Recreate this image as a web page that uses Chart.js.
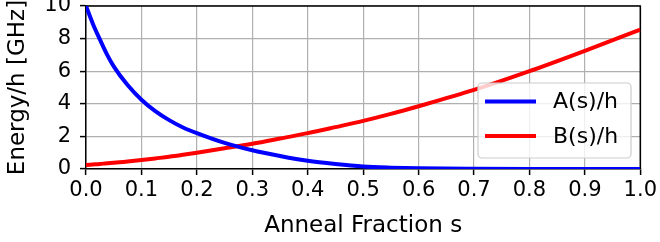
<!DOCTYPE html>
<html>
<head>
<meta charset="utf-8">
<script src="https://cdn.jsdelivr.net/npm/chart.js@4/dist/chart.umd.min.js"></script>
<style>
  html, body { margin: 0; padding: 0; background: #fff; }
  #wrap { width: 660px; height: 242px; }
</style>
</head>
<body>
<div id="wrap"><canvas id="chart" width="660" height="242"></canvas></div>
<script>
// anneal schedule
var sValues = [0, 0.0125, 0.025, 0.0375, 0.05, 0.075, 0.1, 0.125, 0.15, 0.175, 0.2, 0.25, 0.3, 0.35, 0.4, 0.45, 0.5, 0.55, 0.6, 0.7, 0.8, 0.9, 1.0];
var aValues = [10, 8.9, 7.95, 7.05, 6.3, 5.15, 4.25, 3.55, 3.0, 2.55, 2.2, 1.6, 1.15, 0.8, 0.5, 0.3, 0.15, 0.08, 0.04, 0.01, 0, 0, 0];
var bValues = [0.25, 0.28, 0.31, 0.35, 0.38, 0.46, 0.55, 0.65, 0.75, 0.87, 1.0, 1.27, 1.55, 1.87, 2.2, 2.57, 2.95, 3.38, 3.85, 4.85, 6.0, 7.25, 8.55];
var seriesLabels = ["A(s)/h", "B(s)/h"];
var seriesColors = ["#0000ff", "#ff0000"];

const toPoints = (ys) => ys.map((y, i) => ({ x: sValues[i], y: y }));

const FONT = "'DejaVu Sans', sans-serif";

// top and right spines
const frame = {
    id: 'frame',
    beforeDatasetsDraw(chart) {
        const { ctx, chartArea: a } = chart;
        ctx.save();
        ctx.strokeStyle = '#000';
        ctx.lineWidth = 1.5;
        ctx.beginPath();
        ctx.moveTo(a.left, a.top);
        ctx.lineTo(a.right, a.top);
        ctx.lineTo(a.right, a.bottom);
        ctx.stroke();
        ctx.restore();
    }
};

// matplotlib style legend, lower right inside the axes
const boxLegend = {
    id: 'boxLegend',
    afterDraw(chart) {
        const ctx = chart.ctx;
        const x = 478, y = 83, w = 153, h = 75, r = 4;
        ctx.save();
        ctx.beginPath();
        ctx.roundRect(x, y, w, h, r);
        ctx.fillStyle = 'rgba(255,255,255,0.8)';
        ctx.fill();
        ctx.strokeStyle = '#cccccc';
        ctx.lineWidth = 1.2;
        ctx.stroke();
        ctx.font = '22px ' + FONT;
        ctx.textBaseline = 'middle';
        chart.data.datasets.forEach((ds, i) => {
            const cy = 101.5 + i * 34.5;
            ctx.strokeStyle = ds.borderColor;
            ctx.lineWidth = 4;
            ctx.beginPath();
            ctx.moveTo(485, cy);
            ctx.lineTo(536, cy);
            ctx.stroke();
            ctx.fillStyle = '#000';
            ctx.fillText(ds.label, 553, cy + 1);
        });
        ctx.restore();
    }
};

var config = {
    type: 'line',
    data: {
        datasets: [{
            label: seriesLabels[0],
            data: toPoints(aValues),
            borderColor: seriesColors[0],
            borderWidth: 4,
            pointRadius: 0,
            cubicInterpolationMode: 'monotone'
        }, {
            label: seriesLabels[1],
            data: toPoints(bValues),
            borderColor: seriesColors[1],
            borderWidth: 4,
            pointRadius: 0,
            cubicInterpolationMode: 'monotone'
        }]
    },
    options: {
        responsive: false,
        animation: false,
        layout: { padding: { top: 6, right: 19, left: 0, bottom: 0 } },
        plugins: { legend: { display: false }, tooltip: { enabled: false } },
        scales: {
            x: {
                type: 'linear',
                min: 0,
                max: 1,
                ticks: {
                    stepSize: 0.1,
                    color: '#000',
                    font: { family: FONT, size: 21 },
                    padding: 3,
                    maxRotation: 0,
                    callback: (v) => v.toFixed(1)
                },
                grid: { color: '#b0b0b0', lineWidth: 1.2, tickLength: 6, tickColor: '#000', tickWidth: 1.5 },
                border: { display: true, color: '#000', width: 1.5 },
                title: {
                    display: true,
                    text: 'Anneal Fraction s',
                    color: '#000',
                    font: { family: FONT, size: 23, lineHeight: 1 },
                    padding: { top: 0, bottom: 4.5 }
                },
                afterFit(scale) { scale.height = 73; }
            },
            y: {
                type: 'linear',
                min: 0,
                max: 10,
                ticks: {
                    stepSize: 2,
                    color: '#000',
                    font: { family: FONT, size: 21 },
                    padding: 9
                },
                grid: { color: '#b0b0b0', lineWidth: 1.2, tickLength: 6, tickColor: '#000', tickWidth: 1.5 },
                border: { display: true, color: '#000', width: 1.5 },
                title: {
                    display: true,
                    text: 'Energy/h [GHz]',
                    color: '#000',
                    font: { family: FONT, size: 23, lineHeight: 1 },
                    padding: { top: 6.5, bottom: 0 }
                },
                afterFit(scale) {
                    scale.width = 86;
                    scale.paddingTop = 0;
                    scale.paddingBottom = 0;
                }
            }
        }
    },
    plugins: [frame, boxLegend]
};

var chart = new Chart(document.getElementById('chart'), config);
</script>
</body>
</html>
